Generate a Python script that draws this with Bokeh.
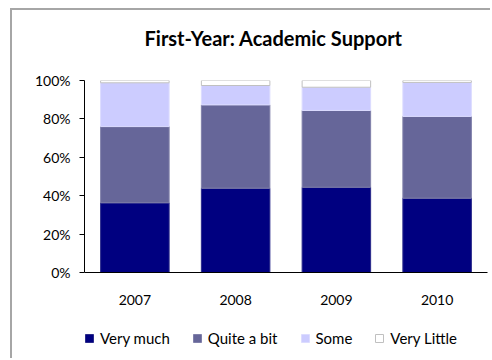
from bokeh.plotting import figure
from bokeh.models import (Range1d, FixedTicker, PrintfTickFormatter,
                          Legend, LegendItem, ColumnDataSource, Title)
from bokeh.embed import file_html
from bokeh.resources import INLINE

categories = ["2007", "2008", "2009", "2010"]
series = ["Very much", "Quite a bit", "Some", "Very Little"]
very_much = [36.3, 43.9, 44.4, 38.7]
quite_a_bit = [39.7, 43.4, 40.0, 42.6]
some = [22.8, 10.1, 12.1, 17.7]
very_little = [1.2, 2.6, 3.5, 1.0]
y_ticks = [0, 20, 40, 60, 80, 100]

fills = ["#000080", "#666699", "#CCCCFF", "#FFFFFF"]
lines = ["#2a2a8a", "#8080aa", "#dcdcff", "#c0c0c0"]

FONT = "Lato"

# category centres on a numeric axis (one unit per category)
xpos = [i + 0.5 for i in range(len(categories))]
n_cat = len(categories)

src = ColumnDataSource(dict(x=xpos, vm=very_much, qb=quite_a_bit,
                            so=some, vl=very_little))

# frame spans from the y axis to the canvas edges; 0..100 occupies 192 px of 280
p = figure(x_range=Range1d(0, n_cat * 1.0124), y_range=Range1d(-45.83, 100),
           width=480, height=350, output_backend="svg", toolbar_location=None,
           min_border_left=72, min_border_right=0, min_border_top=70,
           min_border_bottom=0)
p.styles = {"margin-left": "10px", "margin-top": "8px",
            "border-left": "2px solid #a6a6a6", "border-top": "2px solid #a6a6a6"}

renderers = p.vbar_stack(["vm", "qb", "so", "vl"], x="x", width=0.68, source=src,
                         fill_color=fills, line_color=lines, line_width=1)

# spacer panel next to the frame, then the real title above it
spacer = Title(text=" ", text_font_size="1px", standoff=23)
p.add_layout(spacer, "above")
t = Title(text="First-Year: Academic Support", align="left", offset=60,
          text_font=FONT, text_font_size="20px", text_font_style="bold",
          text_color="#000000", standoff=10)
p.add_layout(t, "above")

p.xgrid.visible = False
p.ygrid.visible = False
p.outline_line_color = None
p.background_fill_color = "#ffffff"

p.yaxis.ticker = FixedTicker(ticks=y_ticks)
p.yaxis.bounds = (0, 100)
p.yaxis.formatter = PrintfTickFormatter(format="%d%%")
p.yaxis.major_tick_out = 5
p.yaxis.major_tick_in = 0
p.yaxis.minor_tick_out = 0
p.yaxis.minor_tick_in = 0
p.yaxis.axis_line_color = "#000000"
p.yaxis.major_tick_line_color = "#000000"
p.yaxis.major_label_standoff = 9
p.yaxis.major_label_text_font = FONT
p.yaxis.major_label_text_font_size = "14px"
p.yaxis.major_label_text_color = "#000000"

p.xaxis.fixed_location = 0
p.xaxis.bounds = (0, n_cat)
p.xaxis.ticker = FixedTicker(ticks=xpos)
p.xaxis.major_label_overrides = {x: c for x, c in zip(xpos, categories)}
p.xaxis.minor_tick_out = 0
p.xaxis.minor_tick_in = 0
p.xaxis.major_tick_out = 0
p.xaxis.major_tick_in = 0
p.xaxis.axis_line_color = "#000000"
p.xaxis.major_label_standoff = 22
p.xaxis.major_label_text_font = FONT
p.xaxis.major_label_text_font_size = "14px"
p.xaxis.major_label_text_color = "#000000"

legend = Legend(items=[LegendItem(label=s, renderers=[r]) for s, r in zip(series, renderers)],
                orientation="horizontal", location=(0, 13),
                glyph_width=10, glyph_height=10, label_standoff=6, spacing=22,
                padding=0, margin=0, border_line_color=None,
                background_fill_alpha=0, label_text_font=FONT,
                label_text_font_size="15px", label_text_color="#000000")
p.add_layout(legend)

open("out.html", "w").write(file_html(p, INLINE))
